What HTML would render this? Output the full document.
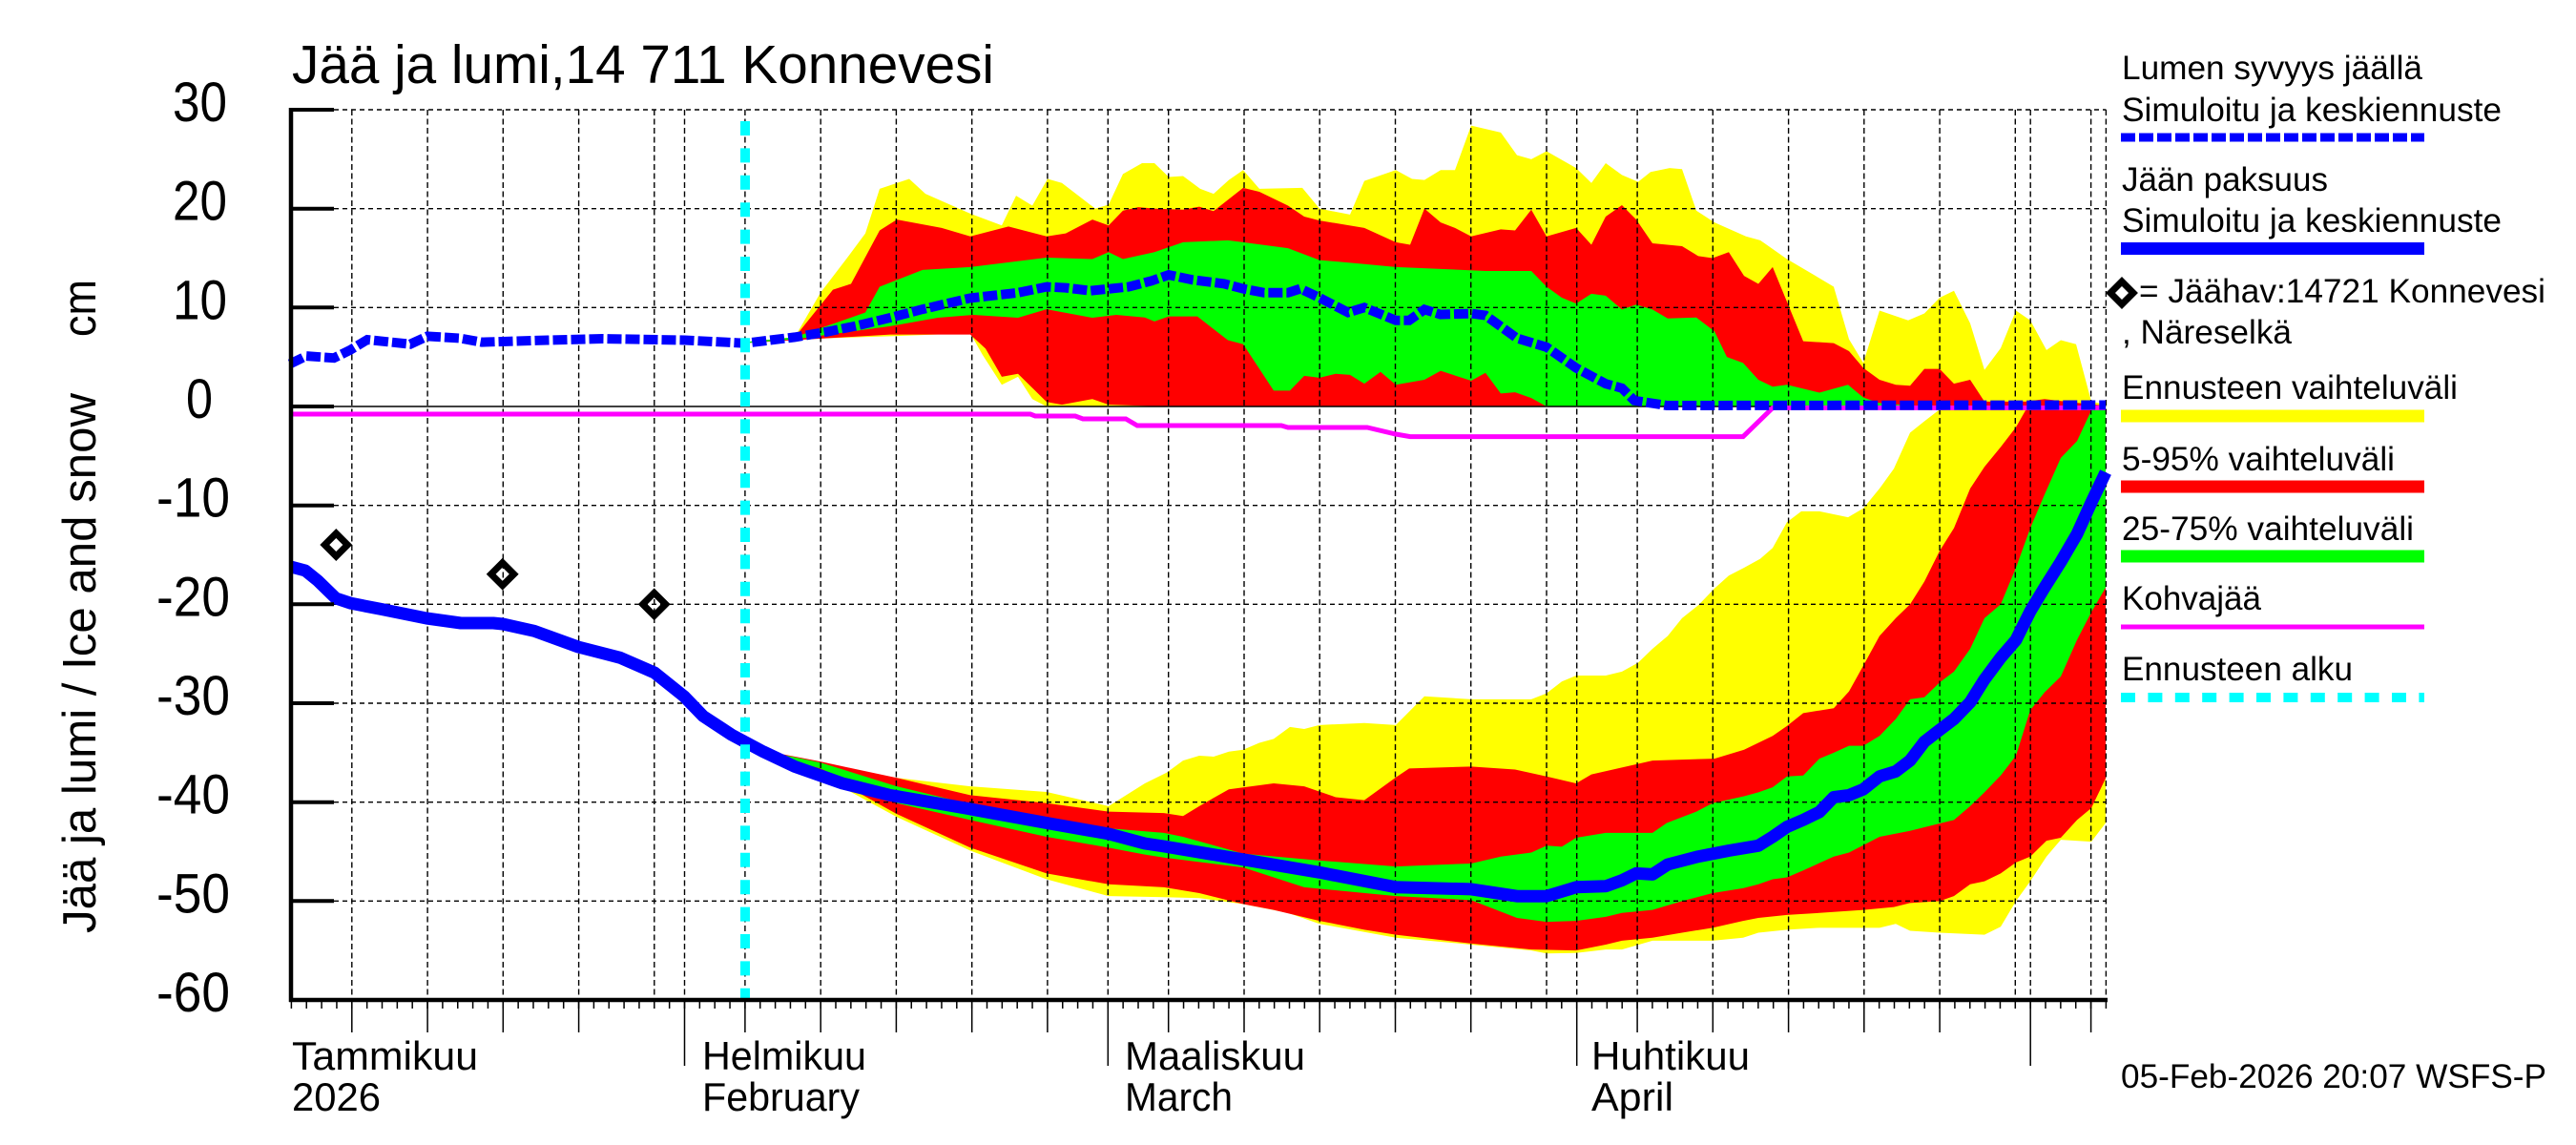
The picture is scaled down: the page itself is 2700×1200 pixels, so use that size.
<!DOCTYPE html>
<html><head><meta charset="utf-8"><style>html,body{margin:0;padding:0;background:#fff}svg{display:block}</style></head>
<body>
<svg width="2700" height="1200" viewBox="0 0 2700 1200" xmlns="http://www.w3.org/2000/svg" font-family="'Liberation Sans', Arial, sans-serif">
<defs>
<pattern id="dt" patternUnits="userSpaceOnUse" x="716.75" y="1048" width="15.85" height="10"><rect x="0" y="0" width="1.5" height="10" fill="#000"/></pattern>
</defs>
<rect width="2700" height="1200" fill="#fff"/>

<!-- bands (x, value) -->
<g transform="matrix(1 0 0 -10.367 0 426)">
<!-- snow bands -->
<polygon fill="#ffff00" points="780,6.5 833,7.0 860,11.5 887,14.9 907,17.5 922,22.0 953,23.0 970,21.5 1017,19.5 1050,18.3 1065,21.3 1082,20.3 1098,23.0 1113,22.6 1148,20.0 1162,20.4 1177,23.5 1197,24.6 1210,24.6 1225,23.2 1240,23.3 1258,22.0 1272,21.5 1288,22.9 1303,23.9 1320,22.0 1365,22.1 1383,20.0 1415,19.4 1430,22.8 1463,23.9 1480,23.0 1493,22.9 1510,23.9 1525,23.9 1542,28.4 1573,27.7 1590,25.4 1605,25.0 1621,25.8 1652,24.1 1668,22.6 1683,24.6 1700,23.4 1717,22.7 1730,23.7 1750,24.1 1763,24.0 1778,19.8 1797,18.6 1830,17.2 1845,16.8 1873,14.9 1903,13.2 1922,12.1 1938,6.8 1953,4.4 1970,9.7 2000,8.7 2017,9.4 2033,11.0 2048,11.7 2065,8.4 2080,3.7 2097,5.9 2113,9.7 2128,8.7 2145,5.7 2160,6.7 2176,6.3 2192,0.5 2207,0.2 2207,0 1097,0 1082,0.75 1067,3.0 1050,2.2 1030,5.2 1017,7.4 933,7.1 833,6.8 780,6.4"/>
<polygon fill="#ff0000" points="780,6.5 833,7.0 873,11.8 892,12.4 922,17.8 940,18.9 987,18.05 1017,17.2 1057,18.2 1097,17.2 1117,17.5 1145,18.9 1162,18.3 1177,19.8 1193,20.15 1210,20.0 1240,19.9 1257,20.2 1272,19.75 1303,22.1 1320,21.7 1350,20.3 1367,19.2 1383,18.8 1430,18.05 1463,16.6 1478,16.35 1493,20.0 1510,18.6 1525,18.05 1542,17.2 1573,17.9 1588,17.8 1605,19.9 1621,17.2 1652,18.05 1668,16.35 1683,19.2 1700,20.35 1715,18.9 1732,16.5 1763,16.2 1780,15.2 1795,15.0 1812,15.6 1828,13.2 1843,12.4 1858,14.1 1890,6.6 1922,6.4 1938,5.6 1953,3.9 1970,2.7 1987,2.2 2002,2.1 2017,3.8 2033,3.8 2048,2.3 2065,2.7 2080,0.5 2123,0.5 2143,0.75 2192,0.2 2207,0.1 2207,0 1220,0 1162,0.18 1145,0.75 1113,0.18 1097,0.46 1067,3.3 1050,3.0 1033,5.85 1017,7.27 933,7.27 833,6.7 780,6.4"/>
<polygon fill="#00ff00" points="780,6.5 833,7.0 907,9.5 922,12.1 967,13.8 1017,14.1 1097,15.05 1145,14.9 1162,15.6 1177,14.9 1210,15.6 1240,16.6 1287,16.8 1303,16.6 1350,16.0 1383,14.8 1430,14.4 1463,14.1 1510,13.9 1557,13.7 1605,13.7 1621,12.1 1637,11.0 1652,10.4 1668,11.4 1683,11.2 1700,9.8 1715,10.3 1732,9.8 1748,8.9 1778,9.0 1797,7.6 1810,5.0 1827,4.4 1843,2.7 1858,2.0 1873,2.2 1907,1.4 1937,2.2 1953,0.9 1970,0.35 2000,0.1 2207,0.1 2207,0 1621,0 1605,0.86 1588,1.43 1573,1.31 1557,3.4 1542,2.6 1510,3.6 1493,2.7 1463,2.2 1447,3.5 1430,2.3 1415,3.2 1400,3.3 1383,2.9 1367,3.1 1352,1.6 1335,1.6 1303,6.3 1287,6.7 1255,9.1 1225,9.1 1210,8.6 1200,9.0 1170,9.26 1145,8.97 1097,9.83 1067,8.97 1020,9.26 983,8.97 933,8.12 833,6.8 780,6.4"/>
<!-- ice bands -->
<polygon fill="#ffff00" points="780,-34.3 860,-36.1 940,-37.55 1017,-38.4 1097,-38.97 1162,-40.4 1200,-38.1 1223,-37.0 1240,-35.8 1257,-35.3 1272,-35.4 1288,-34.9 1303,-34.7 1320,-34.0 1335,-33.6 1352,-32.4 1367,-32.6 1383,-32.2 1430,-32.0 1463,-32.2 1493,-29.3 1542,-29.6 1605,-29.6 1621,-29.0 1637,-27.8 1652,-27.2 1683,-27.2 1700,-26.8 1717,-25.9 1732,-24.5 1748,-23.2 1763,-21.4 1780,-20.1 1797,-18.4 1812,-17.1 1828,-16.3 1845,-15.4 1858,-14.3 1873,-11.7 1888,-10.6 1907,-10.6 1922,-10.9 1937,-11.2 1953,-10.3 1970,-8.3 1985,-6.3 2002,-2.65 2017,-1.5 2033,-0.3 2050,0 2207,0 2207,-42.1 2192,-44.0 2160,-43.8 2145,-45.5 2128,-48.0 2113,-50.0 2097,-52.6 2080,-53.4 2033,-53.2 2002,-53.0 1987,-52.3 1970,-52.7 1907,-52.7 1873,-52.9 1843,-53.2 1827,-53.7 1795,-54.0 1732,-54.0 1700,-54.9 1683,-54.9 1652,-55.25 1621,-55.3 1605,-55.0 1542,-54.4 1463,-53.7 1383,-52.3 1350,-51.2 1303,-50.3 1257,-49.7 1220,-49.6 1162,-49.5 1097,-47.8 1017,-44.9 940,-41.5 860,-37.3 780,-34.5"/>
<polygon fill="#ff0000" points="780,-34.4 860,-35.9 940,-37.55 1017,-39.3 1097,-40.1 1162,-40.96 1220,-41.1 1240,-41.4 1257,-40.4 1288,-38.7 1335,-38.1 1367,-38.4 1400,-39.5 1430,-39.8 1463,-37.5 1477,-36.6 1542,-36.4 1588,-36.7 1621,-37.4 1652,-38.1 1668,-37.2 1700,-36.5 1732,-35.8 1763,-35.7 1797,-35.6 1828,-34.7 1858,-33.3 1873,-32.3 1890,-31.0 1922,-30.5 1938,-28.8 1953,-26.2 1970,-23.2 1987,-21.4 2002,-20.0 2017,-17.7 2033,-14.6 2048,-12.3 2065,-8.3 2080,-6.1 2097,-4.1 2113,-2.1 2123,-0.4 2135,0 2207,0 2207,-37.6 2192,-40.6 2177,-41.8 2160,-43.6 2145,-43.9 2128,-45.5 2113,-46.1 2097,-47.2 2080,-48.0 2065,-48.3 2048,-49.5 2033,-50.0 2002,-50.2 1985,-50.6 1953,-50.9 1907,-51.2 1873,-51.4 1843,-51.7 1827,-52.0 1795,-52.7 1763,-53.2 1732,-53.7 1700,-54.0 1683,-54.4 1652,-55.0 1605,-54.9 1542,-54.3 1463,-53.4 1430,-52.9 1383,-52.0 1335,-50.9 1303,-50.3 1257,-49.2 1220,-48.6 1162,-48.3 1097,-47.2 1017,-44.6 940,-41.2 860,-36.9 780,-34.5"/>
<polygon fill="#00ff00" points="780,-34.4 860,-36.0 940,-38.4 1017,-40.2 1097,-41.5 1162,-42.65 1220,-43.1 1240,-43.5 1303,-45.2 1383,-45.9 1463,-46.5 1542,-46.2 1573,-45.5 1605,-45.1 1621,-44.4 1637,-44.5 1652,-43.6 1683,-43.1 1732,-43.1 1747,-42.1 1778,-40.96 1795,-40.1 1828,-39.4 1843,-39.0 1858,-38.5 1873,-37.4 1890,-37.3 1907,-35.6 1922,-35.0 1938,-34.3 1953,-34.3 1970,-33.3 1987,-31.6 2002,-29.6 2017,-29.4 2033,-27.9 2048,-26.8 2065,-24.5 2080,-21.4 2097,-20.0 2113,-16.3 2128,-12.3 2143,-8.9 2160,-5.2 2177,-3.5 2192,-0.4 2207,0 2207,-18.3 2192,-20.8 2177,-23.6 2160,-27.3 2143,-28.9 2128,-30.7 2113,-35.3 2097,-37.3 2080,-39.0 2065,-40.4 2048,-41.8 2002,-42.9 1970,-43.5 1938,-45.1 1922,-45.5 1890,-46.9 1873,-47.6 1858,-47.8 1843,-48.3 1827,-48.7 1795,-49.2 1763,-50.0 1732,-50.9 1700,-51.2 1683,-51.6 1652,-52.0 1621,-52.1 1590,-51.7 1542,-49.9 1463,-49.5 1367,-48.6 1303,-46.6 1220,-45.6 1200,-45.3 1162,-44.6 1097,-43.5 1017,-41.8 940,-40.1 860,-36.6 780,-34.5"/>
</g>

<!-- grid -->
<g stroke="#000" stroke-width="1.4" fill="none">
<path stroke-dasharray="5 4" d="M305,115H2207.4 M305,218.7H2207.4 M305,322.3H2207.4 M305,529.7H2207.4 M305,633.3H2207.4 M305,737H2207.4 M305,840.7H2207.4 M305,944.3H2207.4"/>
<path stroke-dasharray="6 3.5" d="M368.8,115V1048 M448.1,115V1048 M527.3,115V1048 M606.6,115V1048 M685.8,115V1048 M717.5,115V1048 M780.9,115V1048 M860.2,115V1048 M939.4,115V1048 M1018.7,115V1048 M1097.9,115V1048 M1161.3,115V1048 M1224.7,115V1048 M1304,115V1048 M1383.2,115V1048 M1462.5,115V1048 M1541.7,115V1048 M1621,115V1048 M1652.7,115V1048 M1716.1,115V1048 M1795.3,115V1048 M1874.6,115V1048 M1953.8,115V1048 M2033.1,115V1048 M2112.3,115V1048 M2128.2,115V1048 M2191.6,115V1048 M2207.4,115V1048"/>
<path stroke-width="1.6" d="M305,426H2207.4"/>
</g>

<!-- kohvajää -->
<polyline fill="none" stroke="#ff00ff" stroke-width="5" points="305,434 1080,434 1085,436 1127,436 1135,439 1180,439 1192,446 1343,446 1350,448 1433,448 1463,455 1478,457.6 1827,457.6 1858,427.5 2207,427.5"/>

<!-- snow line -->
<polyline fill="none" stroke="#0000ff" stroke-width="10" stroke-dasharray="15 4" points="304,381.4 321,373.1 350,375.2 367,366.9 385,356 430,360.7 448,352.4 482,354.5 505,358.6 574,356.5 631,355 718,356.5 781,359.7 833,353.4 867,347.7 900,341 933,333 967,324.1 1017,312.4 1067,306.8 1097,300.6 1117,301.6 1143,304.7 1183,300.6 1207,294.3 1225,288.1 1250,293.3 1283,297.4 1303,302.6 1325,306.8 1350,306.8 1363,302.6 1383,312 1413,327.5 1430,322.3 1463,335.8 1477,335.8 1493,324.4 1510,329.6 1542,328.6 1557,330.6 1590,354.5 1621,363.8 1652,385.6 1683,402.2 1700,406.8 1713,419.8 1747,425 2207,424.5"/>

<!-- ice line -->
<polyline fill="none" stroke="#0000ff" stroke-width="13" stroke-linejoin="round" points="305,594 320,598 333,608.5 352,627 368,632.3 400,638.5 447,648 483,653 517,653 527,654 560,661.3 606,678 650,689.3 686,705 717,729.8 737,750.5 767,770.2 800,787.8 833,803.4 883,821 933,833.4 1017,847.9 1097,862.5 1162,873.9 1200,884 1220,887 1303,900.8 1383,914.3 1463,929.8 1542,931.9 1590,939.2 1621,939.2 1652,929.8 1683,928.8 1700,922.6 1715,915.3 1732,916.4 1748,906 1780,897.7 1812,891.5 1843,886.3 1858,877 1873,866.6 1890,859.3 1907,851 1922,835.5 1938,833.4 1953,827.2 1970,813.7 1987,808.5 2002,797.1 2017,777.4 2033,765 2048,753.6 2065,736 2080,712.1 2097,689.3 2113,670.7 2128,640.6 2143,615.7 2160,588.8 2177,559.7 2192,526.6 2207,495"/>

<!-- forecast start -->
<line x1="781" y1="127" x2="781" y2="1048" stroke="#00ffff" stroke-width="10" stroke-dasharray="15 13.4"/>

<!-- observations -->
<g fill="none" stroke="#000" stroke-width="7">
<path d="M352.3,559 L364.3,571 L352.3,583 L340.3,571 Z"/>
<path d="M526.7,589.7 L538.7,601.7 L526.7,613.7 L514.7,601.7 Z"/>
<path d="M685.7,621.3 L697.7,633.3 L685.7,645.3 L673.7,633.3 Z"/>
</g>

<!-- axes -->
<g stroke="#000" fill="none">
<path stroke-width="4.5" d="M305,113V1050 M303,1048H2209"/>
<path stroke-width="4" d="M305,115H350 M305,218.7H350 M305,322.3H350 M305,426H350 M305,529.7H350 M305,633.3H350 M305,737H350 M305,840.7H350 M305,944.3H350"/>
<path stroke-width="1.5" d="M368.8,1048V1082 M448.1,1048V1082 M527.3,1048V1082 M606.6,1048V1082 M780.9,1048V1082 M860.2,1048V1082 M939.4,1048V1082 M1018.7,1048V1082 M1097.9,1048V1082 M1224.7,1048V1082 M1304,1048V1082 M1383.2,1048V1082 M1462.5,1048V1082 M1541.7,1048V1082 M1716.1,1048V1082 M1795.3,1048V1082 M1874.6,1048V1082 M1953.8,1048V1082 M2033.1,1048V1082 M2191.6,1048V1082"/>
<path stroke-width="1.5" d="M717.5,1048V1117 M1161.3,1048V1117 M1652.7,1048V1117 M2128.2,1048V1117"/>
</g>
<rect x="304" y="1048" width="1905" height="9" fill="url(#dt)"/>

<!-- title -->
<text x="306" y="87" font-size="57" textLength="736" lengthAdjust="spacingAndGlyphs">Jää ja lumi,14 711 Konnevesi</text>

<!-- y tick labels -->
<g font-size="58">
<text x="181" y="127" textLength="57" lengthAdjust="spacingAndGlyphs">30</text>
<text x="181" y="230.7" textLength="57" lengthAdjust="spacingAndGlyphs">20</text>
<text x="181" y="334.3" textLength="57" lengthAdjust="spacingAndGlyphs">10</text>
<text x="195" y="438" textLength="28" lengthAdjust="spacingAndGlyphs">0</text>
<text x="164" y="541.7" textLength="77" lengthAdjust="spacingAndGlyphs">-10</text>
<text x="164" y="645.3" textLength="77" lengthAdjust="spacingAndGlyphs">-20</text>
<text x="164" y="749" textLength="77" lengthAdjust="spacingAndGlyphs">-30</text>
<text x="164" y="852.7" textLength="77" lengthAdjust="spacingAndGlyphs">-40</text>
<text x="164" y="956.3" textLength="77" lengthAdjust="spacingAndGlyphs">-50</text>
<text x="164" y="1060" textLength="77" lengthAdjust="spacingAndGlyphs">-60</text>
</g>

<!-- y axis title -->
<text transform="translate(100,978) rotate(-90)" font-size="49" textLength="566" lengthAdjust="spacingAndGlyphs">Jää ja lumi / Ice and snow</text>
<text transform="translate(100,353) rotate(-90)" font-size="49" textLength="60" lengthAdjust="spacingAndGlyphs">cm</text>

<!-- x labels -->
<g font-size="42">
<text x="306" y="1121" textLength="195" lengthAdjust="spacingAndGlyphs">Tammikuu</text>
<text x="306" y="1164" textLength="93" lengthAdjust="spacingAndGlyphs">2026</text>
<text x="736" y="1121" textLength="172" lengthAdjust="spacingAndGlyphs">Helmikuu</text>
<text x="736" y="1164" textLength="165" lengthAdjust="spacingAndGlyphs">February</text>
<text x="1179" y="1121" textLength="189" lengthAdjust="spacingAndGlyphs">Maaliskuu</text>
<text x="1179" y="1164" textLength="113" lengthAdjust="spacingAndGlyphs">March</text>
<text x="1668" y="1121" textLength="166" lengthAdjust="spacingAndGlyphs">Huhtikuu</text>
<text x="1668" y="1164" textLength="86" lengthAdjust="spacingAndGlyphs">April</text>
</g>
<text x="2223" y="1140" font-size="35" textLength="446" lengthAdjust="spacingAndGlyphs">05-Feb-2026 20:07 WSFS-P</text>

<!-- legend -->
<g font-size="35">
<text x="2224" y="83" textLength="315" lengthAdjust="spacingAndGlyphs">Lumen syvyys jäällä</text>
<text x="2224" y="127" textLength="398" lengthAdjust="spacingAndGlyphs">Simuloitu ja keskiennuste</text>
<text x="2224" y="200" textLength="216" lengthAdjust="spacingAndGlyphs">Jään paksuus</text>
<text x="2224" y="243" textLength="398" lengthAdjust="spacingAndGlyphs">Simuloitu ja keskiennuste</text>
<text x="2242" y="317" textLength="426" lengthAdjust="spacingAndGlyphs">= Jäähav:14721 Konnevesi</text>
<text x="2224" y="360" textLength="178" lengthAdjust="spacingAndGlyphs">, Näreselkä</text>
<text x="2224" y="418" textLength="352" lengthAdjust="spacingAndGlyphs">Ennusteen vaihteluväli</text>
<text x="2224" y="493" textLength="286" lengthAdjust="spacingAndGlyphs">5-95% vaihteluväli</text>
<text x="2224" y="566" textLength="306" lengthAdjust="spacingAndGlyphs">25-75% vaihteluväli</text>
<text x="2224" y="639" textLength="146" lengthAdjust="spacingAndGlyphs">Kohvajää</text>
<text x="2224" y="713" textLength="242" lengthAdjust="spacingAndGlyphs">Ennusteen alku</text>
</g>
<line x1="2223" y1="144" x2="2541" y2="144" stroke="#0000ff" stroke-width="9" stroke-dasharray="15 4"/>
<line x1="2223" y1="260.5" x2="2541" y2="260.5" stroke="#0000ff" stroke-width="13"/>
<path d="M2224,295 L2236,307 L2224,319 L2212,307 Z" fill="none" stroke="#000" stroke-width="7"/>
<line x1="2223" y1="436" x2="2541" y2="436" stroke="#ffff00" stroke-width="13"/>
<line x1="2223" y1="510" x2="2541" y2="510" stroke="#ff0000" stroke-width="13"/>
<line x1="2223" y1="583" x2="2541" y2="583" stroke="#00ff00" stroke-width="13"/>
<line x1="2223" y1="657" x2="2541" y2="657" stroke="#ff00ff" stroke-width="5"/>
<line x1="2223" y1="731" x2="2541" y2="731" stroke="#00ffff" stroke-width="10" stroke-dasharray="15 13.4"/>
</svg>
</body></html>
